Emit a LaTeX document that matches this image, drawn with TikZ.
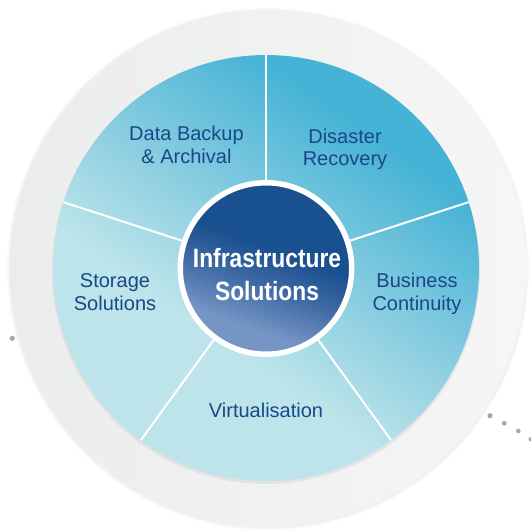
\documentclass[tikz,border=0pt]{standalone}
\usepackage{fontspec}
\setmainfont{Liberation Sans}
\newfontfamily\condfont[FakeStretch=0.86]{Liberation Sans}
\usetikzlibrary{calc}
\definecolor{ringgrey}{HTML}{EBECEC}
\definecolor{ringlight}{HTML}{F6F6F6}
\definecolor{wdark}{HTML}{45B3D5}
\definecolor{wmid}{HTML}{86CCE0}
\definecolor{wlight}{HTML}{BDE4EA}
\definecolor{txtblue}{HTML}{184888}
\definecolor{hubdark}{HTML}{19508F}
\definecolor{hubmid}{HTML}{3C67A2}
\definecolor{hublight}{HTML}{7595C4}
\definecolor{dotgrey}{HTML}{A8A8A8}
\pgfdeclareverticalshading{wheelshade}{100bp}{color(0bp)=(wlight); color(40bp)=(wlight); color(54bp)=(wmid); color(70bp)=(wdark); color(100bp)=(wdark)}
\pgfdeclareverticalshading{hubshade}{100bp}{color(0bp)=(hublight); color(32bp)=(hublight); color(46bp)=(hubmid); color(56bp)=(hubdark); color(100bp)=(hubdark)}
\tikzset{
  lbl/.style={text=txtblue, align=center, anchor=base, inner sep=0pt,
    font=\fontsize{20}{22.5}\selectfont},
  hubdisc/.style={circle, draw=white, line width=5.5pt, minimum size=171.5pt,
    inner sep=0pt, shading=hubshade, shading angle=-20},
  hubtext/.style={text=white, align=center, anchor=base, inner sep=0pt,
    font=\condfont\bfseries\fontsize{26.5}{33}\selectfont},
  spoke/.style={draw=white, line width=2pt},
  dotmark/.style={fill=dotgrey}
}
\begin{document}
\begin{tikzpicture}[x=1pt,y=-1pt]
\useasboundingbox (0,0) rectangle (531,530);
\fill[white] (0,0) rectangle (531,530);
\coordinate (c) at (266,268);
% outer ring with soft edge
\fill[black,opacity=0.025] (268,269) circle[radius=261pt];
\fill[black,opacity=0.03] (268,269) circle[radius=259.5pt];
\shade[left color=ringgrey, right color=ringlight] (268,268) circle[radius=258pt];
% wheel with soft bottom shadow
\fill[black,opacity=0.06] (266,270) circle[radius=214pt];
\shade[shading=wheelshade, shading angle=-35] (c) circle[radius=213pt];
% spokes
\foreach \a in {90,18,162,234,306}
  \draw[spoke] ($(c)+(\a:86pt)$) -- ($(c)+(\a:213pt)$);
% hub
\node[hubdisc] (hub) at (266,268.5) {};
\node[hubtext] (hubtxt) at (267,300.7) {Infrastructure\\Solutions};
% labels
\node[lbl] (data) at (186.5,163.3) {Data Backup\\\& Archival};
\node[lbl] (disaster) at (345,165.7) {Disaster\\Recovery};
\node[lbl] (storage) at (115,310) {Storage\\Solutions};
\node[lbl] (business) at (417,310) {Business\\Continuity};
\node[lbl] (virt) at (266,417) {Virtualisation};
% dots
\fill[dotmark] (12.3,338.3) circle[radius=2.6pt];
\fill[dotmark] (490,415.7) circle[radius=2.6pt];
\fill[dotmark] (504.3,423.3) circle[radius=2.4pt];
\fill[dotmark] (518.3,431) circle[radius=2.3pt];
\fill[dotmark] (530.7,439.3) circle[radius=2.2pt];
\end{tikzpicture}
\end{document}
